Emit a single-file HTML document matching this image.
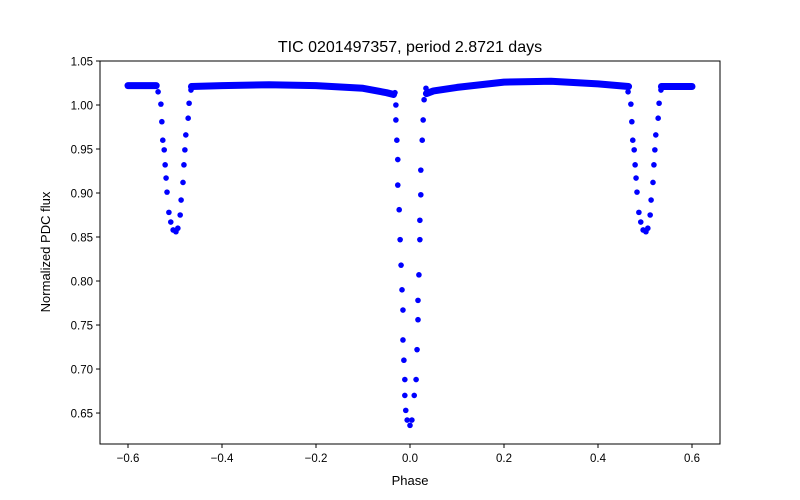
<!DOCTYPE html>
<html><head><meta charset="utf-8"><style>
body{margin:0;background:#fff;}
svg{display:block;font-family:"Liberation Sans","DejaVu Sans",sans-serif;}
</style></head><body>
<svg id="chart" width="800" height="500" xmlns="http://www.w3.org/2000/svg">
<rect width="800" height="500" fill="#fff"/>
<text x="410" y="52" font-size="16" text-anchor="middle">TIC 0201497357, period 2.8721 days</text>
<text x="410" y="485" font-size="13" text-anchor="middle">Phase</text>
<text x="50" y="252" font-size="13" text-anchor="middle" transform="rotate(-90 50 252)">Normalized PDC flux</text>
<g id="plot"></g>
<g id="axes"></g>
</svg>
<script>
const xTicks=[-0.6,-0.4,-0.2,0.0,0.2,0.4,0.6];
const xTickLabels=["\u22120.6","\u22120.4","\u22120.2","0.0","0.2","0.4","0.6"];
const yTicks=[0.65,0.70,0.75,0.80,0.85,0.90,0.95,1.00,1.05];
const yTickLabels=["0.65","0.70","0.75","0.80","0.85","0.90","0.95","1.00","1.05"];
const baseLeftPhase=[-0.6,-0.54];
const baseLeftFlux=[1.022,1.022];
const baseMid1Phase=[-0.465,-0.4,-0.3,-0.2,-0.1,-0.05,-0.035];
const baseMid1Flux=[1.021,1.022,1.023,1.022,1.019,1.014,1.012];
const baseMid2Phase=[0.035,0.05,0.1,0.2,0.3,0.4,0.465];
const baseMid2Flux=[1.013,1.016,1.020,1.026,1.027,1.024,1.021];
const baseRightPhase=[0.535,0.6];
const baseRightFlux=[1.021,1.021];
const secLPhase=[-0.536,-0.530,-0.528,-0.526,-0.523,-0.521,-0.519,-0.517,-0.513,-0.509,-0.504,-0.498,-0.494,-0.489,-0.487,-0.483,-0.481,-0.479,-0.477,-0.472,-0.470,-0.466];
const secLFlux=[1.015,1.001,0.981,0.960,0.949,0.932,0.917,0.901,0.878,0.867,0.858,0.856,0.860,0.875,0.892,0.912,0.932,0.949,0.966,0.985,1.002,1.017];
const secRPhase=[0.464,0.470,0.472,0.474,0.477,0.479,0.481,0.483,0.487,0.491,0.496,0.502,0.506,0.511,0.513,0.517,0.519,0.521,0.523,0.528,0.530,0.534];
const secRFlux=[1.015,1.001,0.981,0.960,0.949,0.932,0.917,0.901,0.878,0.867,0.858,0.856,0.860,0.875,0.892,0.912,0.932,0.949,0.966,0.985,1.002,1.017];
const priPhase=[-0.032,-0.030,-0.030,-0.028,-0.026,-0.026,-0.023,-0.021,-0.019,-0.017,-0.015,-0.015,-0.013,-0.011,-0.011,-0.009,-0.006,0.000,0.004,0.009,0.013,0.015,0.017,0.017,0.019,0.021,0.021,0.023,0.023,0.026,0.028,0.030,0.034];
const priFlux=[1.014,1.000,0.983,0.960,0.938,0.909,0.881,0.847,0.818,0.790,0.767,0.733,0.710,0.688,0.670,0.653,0.642,0.636,0.642,0.670,0.688,0.722,0.756,0.778,0.807,0.847,0.869,0.898,0.926,0.960,0.983,1.006,1.019];

const L=100,R=720,T=61,B=444;
const xMin=-0.6596,xMax=0.6596,yMin=0.6148,yMax=1.05;
const xs=v=>L+(v-xMin)/(xMax-xMin)*(R-L);
const ys=v=>B-(v-yMin)/(yMax-yMin)*(B-T);
const NS="http://www.w3.org/2000/svg";
const plot=document.getElementById('plot'),axes=document.getElementById('axes');
function mk(tag,attrs,parent){const e=document.createElementNS(NS,tag);for(const k in attrs)e.setAttribute(k,attrs[k]);parent.appendChild(e);return e;}

function band(ph,fl,name){
  const p=mk('polyline',{points:ph.map((x,i)=>xs(x)+','+ys(fl[i])).join(' '),fill:'none',stroke:'#0000ff','stroke-width':7,'stroke-linecap':'round','stroke-linejoin':'round'},plot);
  
  
}
band(baseLeftPhase,baseLeftFlux,'baseline-left');
band(baseMid1Phase,baseMid1Flux,'baseline-mid-left');
band(baseMid2Phase,baseMid2Flux,'baseline-mid-right');
band(baseRightPhase,baseRightFlux,'baseline-right');

function dots(ph,fl,name){
  ph.forEach((x,i)=>{
    const c=mk('circle',{cx:xs(x),cy:ys(fl[i]),r:2.8,fill:'#0000ff'},plot);
    
    
  });
}
dots(secLPhase,secLFlux,'secondary-eclipse-point');
dots(secRPhase,secRFlux,'secondary-eclipse-point');
dots(priPhase,priFlux,'primary-eclipse-point');

const frame=mk('rect',{x:L,y:T,width:R-L,height:B-T,fill:'none',stroke:'#000','stroke-width':1},axes);


xTicks.forEach((v,i)=>{
  const x=xs(v);
  const t=mk('line',{x1:x,x2:x,y1:B,y2:B+4,stroke:'#000'},axes);
  
  
  const l=mk('text',{x:x,y:B+18,'font-size':11.5,'text-anchor':'middle'},axes);
  l.textContent=xTickLabels[i];
  
  
});
yTicks.forEach((v,i)=>{
  const y=ys(v);
  const t=mk('line',{x1:L-4,x2:L,y1:y,y2:y,stroke:'#000'},axes);
  
  
  const l=mk('text',{x:L-7,y:y+4.5,'font-size':11.5,'text-anchor':'end'},axes);
  l.textContent=yTickLabels[i];
  
  
});
</script>
</body></html>
